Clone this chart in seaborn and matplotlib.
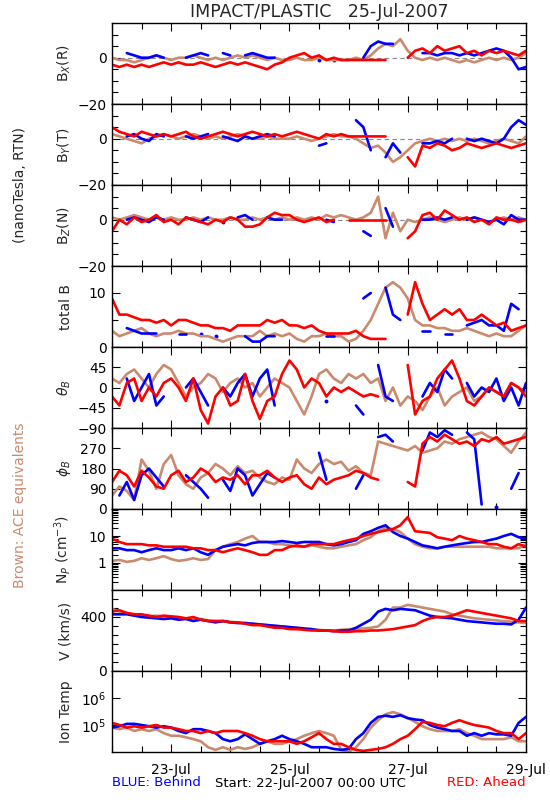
import numpy as np
import pandas as pd
import matplotlib
matplotlib.use("Agg")
import matplotlib.pyplot as plt
import seaborn as sns
from matplotlib.ticker import FixedLocator, NullFormatter, LogLocator

nan = np.nan

# time axis: hours since 22-Jul-2007 00:00 UTC, 3-hour samples
hours = list(range(0, 169, 3))
date_ticks = [24, 72, 120, 168]
date_labels = ["23-Jul", "25-Jul", "27-Jul", "29-Jul"]

# ---- Bx (R) ----
bx_red = [-3,-4,-3,-4,-3,-4,-3,-2,-3,-2,-3,-3,-2,-3,-4,-3,-2,-3,-2,-3,-4,-5,-3,-2,0,1,2,0,1,-1,0,-1,-1,-1,-1,-1,-1,-1,nan,nan,0,3,4,2,5,3,4,5,2,3,1,3,2,3,2,1,3]
bx_blue = [nan,nan,2,1,0,0,1,0,nan,nan,0,1,2,1,nan,2,1,nan,1,2,1,0,0,nan,nan,nan,nan,nan,-1,nan,-1,nan,nan,nan,0,5,7,6,6,nan,nan,nan,2,2,1,2,2,1,2,1,2,3,4,3,0,-5,-4]
bx_ace = [0,-1,-1,-2,-1,0,1,0,-1,0,0,1,0,-1,0,-1,0,1,0,1,0,-1,0,-1,-1,0,-1,-1,0,-1,-1,-1,-1,0,-1,1,4,6,5,8,3,0,-1,0,-1,0,-1,-2,-1,-2,-1,0,-1,0,-1,0,2]

# ---- By (T) ----
by_red = [5,3,2,1,3,2,1,2,1,2,3,1,0,1,2,3,2,1,2,3,2,1,2,1,2,3,2,1,0,2,1,2,1,1,1,1,1,1,nan,nan,-8,-12,-3,-4,-2,-3,-5,-4,-2,-3,-4,-3,-2,-3,-4,-3,-2]
by_blue = [nan,nan,1,2,0,-1,2,1,nan,nan,1,0,1,2,nan,1,0,-1,1,0,1,2,1,nan,nan,nan,nan,nan,-3,-2,nan,nan,nan,8,5,-5,nan,-8,-2,-6,nan,nan,-2,-2,-1,-2,0,nan,0,-1,0,-1,-2,0,5,8,6]
by_ace = [2,1,0,-1,-2,0,1,2,1,0,1,2,1,0,1,0,1,2,1,0,0,1,0,0,0,1,0,-1,0,1,2,1,1,0,-2,-4,-3,-6,-10,-8,-5,-2,-1,0,-1,0,-1,0,-1,0,-1,-2,-1,0,-1,-2,1]

# ---- Bz (N) ----
bz_red = [-5,0,-2,1,-1,0,2,-1,0,-2,1,0,-1,-2,0,-1,1,0,-3,-3,-2,1,3,2,2,0,-1,0,1,-1,0,nan,0,0,0,0,0,0,nan,nan,-8,-5,2,3,0,4,2,0,1,-1,0,-2,1,0,0,-1,0]
bz_blue = [nan,nan,0,1,0,-1,1,0,nan,nan,1,0,-1,1,nan,-1,nan,1,2,0,nan,1,0,0,nan,nan,nan,nan,nan,0,-1,nan,nan,nan,-5,-7,nan,5,-3,nan,nan,nan,0,0,1,0,1,nan,0,1,0,-1,0,-2,2,0,0]
bz_ace = [1,0,1,2,1,0,1,0,1,0,0,1,0,1,0,0,1,0,0,1,0,1,0,1,0,1,0,1,0,2,1,2,1,0,1,3,10,-8,3,-5,0,-1,0,1,0,-1,0,1,0,1,0,-1,0,1,0,1,0]

# ---- total B ----
bt_red = [9,6,6,5.5,5,5,4.5,5,4,5,5,4.5,4,4,3.5,3.5,3,4,4,4,4,5,4.5,5,4,4,3.5,4,3,2.5,2.5,2.5,2.5,3,2,1.5,1.5,1.5,nan,nan,6,12,8,5,6,7,6,7,5,5,6,5,4,4.5,3,3.5,4]
bt_blue = [nan,nan,3.5,3,2.5,2.5,2.5,nan,nan,2.5,2.5,nan,2.5,nan,2,nan,nan,nan,2,1,1,2,2,nan,nan,nan,nan,nan,nan,2,2,nan,nan,nan,9,10,nan,11,6,5,nan,nan,3,3,nan,2.5,2.5,nan,4,4.5,5,4,4,3,8,7,nan]
bt_ace = [3,2,2.5,3,3.5,2.5,2,2.5,2.5,3,2.5,2.5,2,2,1.5,1,1.5,2,2,2,3,2,2.5,2,2.5,1.5,1,2,2,2.5,2,2,1,1.5,3,5,8,11,12,11,9,5,4,4,3.5,3.5,3,3,3.5,3,2.5,2,2.5,2,2,3,4]

# ---- theta_B ----
th_red = [-20,-40,10,20,-30,0,-20,10,20,0,-30,20,-50,-80,-20,0,-40,-30,30,-30,-70,-30,-20,30,60,40,0,20,10,-20,0,-10,0,-10,-20,-15,-20,nan,nan,nan,50,-60,-30,-20,20,40,60,20,-30,-40,-20,0,-10,-20,10,0,-20]
th_blue = [nan,nan,20,-30,0,30,-40,-20,nan,nan,0,20,-10,-40,nan,0,-20,10,30,-20,20,40,-40,nan,nan,nan,nan,nan,nan,-30,nan,nan,nan,-40,-60,nan,50,-20,-30,nan,nan,nan,-20,10,-10,40,20,nan,10,-20,0,-10,20,-30,0,-40,10]
th_ace = [20,10,30,40,20,0,30,50,40,10,-20,0,10,30,20,-10,10,20,0,10,-20,0,20,10,0,-30,-60,-20,30,40,20,10,30,20,30,10,20,-30,0,-40,-20,-30,-50,-20,0,-40,-20,-10,0,-30,-20,0,-10,-20,10,0,-10]

# ---- phi_B ----
ph_red = [120,170,150,100,170,140,100,90,150,170,120,140,180,160,120,140,130,150,110,150,150,170,140,120,140,150,110,90,140,110,130,140,150,170,160,140,130,nan,nan,nan,120,100,290,320,300,330,310,290,300,280,310,300,320,290,300,310,320]
ph_blue = [nan,60,120,40,150,180,140,100,nan,nan,150,120,90,50,nan,130,80,180,150,60,110,160,140,nan,nan,nan,nan,nan,250,130,nan,nan,nan,90,150,nan,320,330,300,nan,nan,nan,260,340,320,350,330,nan,340,310,20,nan,10,nan,90,160,nan]
ph_ace = [60,100,80,40,220,170,90,200,240,150,110,90,140,160,200,180,150,190,160,170,140,120,110,140,130,220,180,160,200,220,200,210,170,190,160,150,300,290,280,270,260,280,250,260,270,300,290,310,320,330,340,320,310,280,250,300,340]

# ---- proton density ----
np_red = [8,6,5,5,5,4.5,4.5,4,4,4,4,3.5,3.5,3,3,2.5,3,3.5,3,2.5,2,2,3,3,4,4.5,4,5,5,5,5,6,7,8,10,12,14,16,18,25,50,15,14,13,9,8,7,10,8,7,6,5,5,4,3.5,5,4]
np_blue = [3.5,3.5,3,3,2.5,3,3.5,3,3,3.5,3,3.5,2.5,2,3,4,4.5,5,4.5,5.5,6,6,6,6.5,6,5.5,6,6,6,5,4.5,5,6,7,12,15,20,25,14,10,8,6,4.5,4,3.5,4,4.5,5,5.5,6,6,7,8,10,12,9,8]
np_ace = [1.2,1.3,1.1,1.2,1.5,1.3,1.5,1.8,1.4,1.2,1.3,1.5,1.3,1.4,3,4,5,6,8,10,6,6,5,5,4.5,4,4,4.5,4,3.5,3.5,4,4.5,5,7,9,15,20,18,14,8,5,4,3.5,3.5,4,4,4,4,4,4,4,3.5,3.5,3.5,3.5,5]

# ---- bulk speed ----
v_red = [440,450,430,420,420,410,400,410,405,400,390,400,380,370,370,370,360,360,350,340,340,330,320,320,310,310,305,300,300,300,295,290,290,295,295,300,300,305,310,320,330,340,370,390,400,400,410,430,450,440,430,420,410,400,390,370,370]
v_blue = [420,420,420,410,400,395,390,385,390,380,385,370,380,370,360,370,360,355,355,350,345,340,335,330,325,320,315,310,300,300,295,300,300,320,350,380,440,460,450,460,455,450,430,410,400,395,390,380,370,365,360,355,350,350,345,380,470]
v_ace = [460,440,430,420,410,405,410,405,400,395,390,390,385,375,370,370,365,360,355,350,345,340,335,330,325,320,310,310,305,300,300,305,310,310,315,320,330,380,470,470,490,480,470,460,450,440,420,410,400,390,385,380,375,370,365,360,355]

# ---- ion temperature ----
t_red = [1.2e5,1.0e5,8e4,9e4,8e4,9e4,1e5,8e4,8e4,7e4,6e4,6e4,5e4,6e4,5e4,6e4,6e4,6e4,5e4,4e4,3e4,2.5e4,2.5e4,2.5e4,2.5e4,2e4,2.5e4,3.5e4,5e4,3e4,2e4,2e4,1.5e4,1.2e4,1.1e4,1.2e4,1.3e4,1.5e4,2e4,3e4,4e4,7e4,1.3e5,1.2e5,1e5,9e4,1.2e5,1.5e5,1.2e5,1.0e5,9e4,8e4,6e4,5e4,5e4,3e4,5e4]
t_blue = [8e4,9e4,1.1e5,1.1e5,1e5,9e4,8e4,9e4,8e4,6e4,5e4,7e4,7e4,6e4,5e4,3e4,2.5e4,3e4,4.5e4,3e4,2e4,2.5e4,3e4,4e4,3e4,2.5e4,2e4,1.5e4,1.5e4,1.5e4,1.3e4,1.2e4,1.3e4,3e4,5e4,1.2e5,2e5,2.2e5,2e5,2.3e5,1.8e5,1.6e5,1.5e5,1e5,8e4,7e4,6e4,6e4,4e4,5e4,4e4,5e4,4.5e4,4.5e4,4e4,1.2e5,2e5]
t_ace = [8e4,7e4,8e4,6e4,7e4,6e4,7e4,5e4,4e4,4e4,3.5e4,3e4,2.5e4,1.5e4,1.2e4,1.5e4,1.2e4,1.5e4,1.3e4,1.5e4,2e4,2.5e4,2e4,2e4,2.5e4,3e4,4e4,5e4,6e4,5e4,4e4,1.2e4,1.0e4,1.5e4,3e4,8e4,1.5e5,2.5e5,3e5,2.5e5,1.8e5,1.3e5,9e4,7e4,6e4,6e4,6e4,7e4,5e4,4e4,3e4,3e4,3e4,3e4,3.5e4,2.5e4,2.5e4]

panels = [
    ("B$_X$(R)", bx_ace, bx_blue, bx_red),
    ("B$_Y$(T)", by_ace, by_blue, by_red),
    ("B$_Z$(N)", bz_ace, bz_blue, bz_red),
    ("total B", bt_ace, bt_blue, bt_red),
    (r"$\theta_B$", th_ace, th_blue, th_red),
    (r"$\phi_B$", ph_ace, ph_blue, ph_red),
    ("N$_P$ (cm$^{-3}$)", np_ace, np_blue, np_red),
    ("V (km/s)", v_ace, v_blue, v_red),
    ("Ion Temp", t_ace, t_blue, t_red),
]

BLUE = "#0000ff"
RED = "#ff0000"
ACE = "#c98a6e"

sns.set_theme(style="white")
plt.rcParams["font.family"] = ["DejaVu Sans"]
plt.rcParams["axes.linewidth"] = 1.0

fig = plt.figure(figsize=(5.5, 8.0), dpi=100)
L, R = 112 / 550, 526 / 550
top_px, ph = 23, 81

def segments(vals):
    """Split a series at missing values so gaps stay gaps."""
    segs, cur = [], []
    for h, v in zip(hours, vals):
        if v is None or (isinstance(v, float) and np.isnan(v)):
            if cur:
                segs.append(cur)
            cur = []
        else:
            cur.append((h, v))
    if cur:
        segs.append(cur)
    return segs

axes = []
for k, (label, ace, blue, red) in enumerate(panels):
    y0 = 1 - (top_px + (k + 1) * ph) / 800
    ax = fig.add_axes([L, y0, R - L, ph / 800])
    axes.append(ax)
    for vals, col in ((ace, ACE), (blue, BLUE), (red, RED)):
        for seg in segments(vals):
            df = pd.DataFrame(seg, columns=["h", "v"])
            if len(df) == 1:
                sns.scatterplot(data=df, x="h", y="v", ax=ax, color=col, s=8,
                                linewidth=0, legend=False)
            else:
                sns.lineplot(data=df, x="h", y="v", ax=ax, color=col, lw=1.9,
                             estimator=None, sort=False, legend=False)
    ax.set_xlim(0, 168)
    ax.set_xlabel("")
    ax.set_ylabel(label, fontsize=10)
    ax.yaxis.set_label_coords(-0.095, 0.5)
    for sp in ax.spines.values():
        sp.set_color("black")
        sp.set_linewidth(1.0)
    ax.xaxis.set_major_locator(FixedLocator(date_ticks))
    ax.xaxis.set_minor_locator(FixedLocator(list(range(0, 169, 12))))
    if k == len(panels) - 1:
        ax.set_xticklabels(date_labels, fontsize=10)
    else:
        ax.set_xticklabels([])
    ax.tick_params(axis="both", which="both", direction="in", top=True, right=True,
                   bottom=True, left=True, colors="black", labelsize=10, pad=4)
    ax.tick_params(axis="x", which="major", length=6, width=0.8, pad=8)
    ax.tick_params(axis="x", which="minor", length=4, width=0.8)
    ax.tick_params(axis="y", which="major", length=6, width=0.8)
    ax.tick_params(axis="y", which="minor", length=4, width=0.8)
    ax.grid(False)
    ax.set_facecolor("white")

def lin_ticks(ax, lo, hi, labeled, minor):
    ax.set_ylim(lo, hi)
    ax.yaxis.set_major_locator(FixedLocator(labeled))
    ax.set_yticklabels([("\u2212%d" % -t) if t < 0 else "%d" % t for t in labeled])
    ax.yaxis.set_minor_locator(FixedLocator(minor))

for ax in axes[:3]:
    lin_ticks(ax, -20, 15, [-20, 0], [-15, -10, -5, 5, 10])
    ax.axhline(0, color="#888888", lw=0.8, ls=(0, (4, 3)), zorder=0)
lin_ticks(axes[3], 0, 15, [0, 10], [5])
lin_ticks(axes[4], -90, 90, [-90, -45, 0, 45], [])
lin_ticks(axes[5], 0, 360, [0, 90, 180, 270], [])
lin_ticks(axes[7], 0, 600, [0, 400], [200 / 3 * i for i in range(1, 9) if i != 6])

ax = axes[6]
ax.set_yscale("log")
ax.set_ylim(0.1, 100)
ax.yaxis.set_major_locator(FixedLocator([1, 10]))
ax.set_yticklabels(["1", "10"])
ax.yaxis.set_minor_locator(LogLocator(base=10, subs=np.arange(2, 10)))
ax.yaxis.set_minor_formatter(NullFormatter())

ax = axes[8]
ax.set_yscale("log")
ax.set_ylim(1e4, 1e7)
ax.yaxis.set_major_locator(FixedLocator([1e5, 1e6]))
ax.set_yticklabels(["10$^5$", "10$^6$"])
ax.yaxis.set_minor_locator(FixedLocator([]))
ax.yaxis.set_minor_formatter(NullFormatter())

fig.text((L + R) / 2, 1 - 12 / 800, "IMPACT/PLASTIC   25-Jul-2007",
         ha="center", va="center", fontsize=12.5)
fig.text(20 / 550, 1 - 185 / 800, "(nanoTesla, RTN)", rotation=90,
         ha="center", va="center", fontsize=10)
fig.text(20 / 550, 1 - 505 / 800, "Brown: ACE equivalents", rotation=90,
         ha="center", va="center", fontsize=10, color=ACE)
fig.text(L, 1 - 783 / 800, "BLUE: Behind", ha="left", va="center",
         fontsize=9.5, color=BLUE)
fig.text(215 / 550, 1 - 783 / 800, "Start: 22-Jul-2007 00:00 UTC", ha="left",
         va="center", fontsize=9.5, color="black")
fig.text(R, 1 - 783 / 800, "RED: Ahead", ha="right", va="center",
         fontsize=9.5, color=RED)

fig.savefig("out.png", dpi=100, facecolor="white")
